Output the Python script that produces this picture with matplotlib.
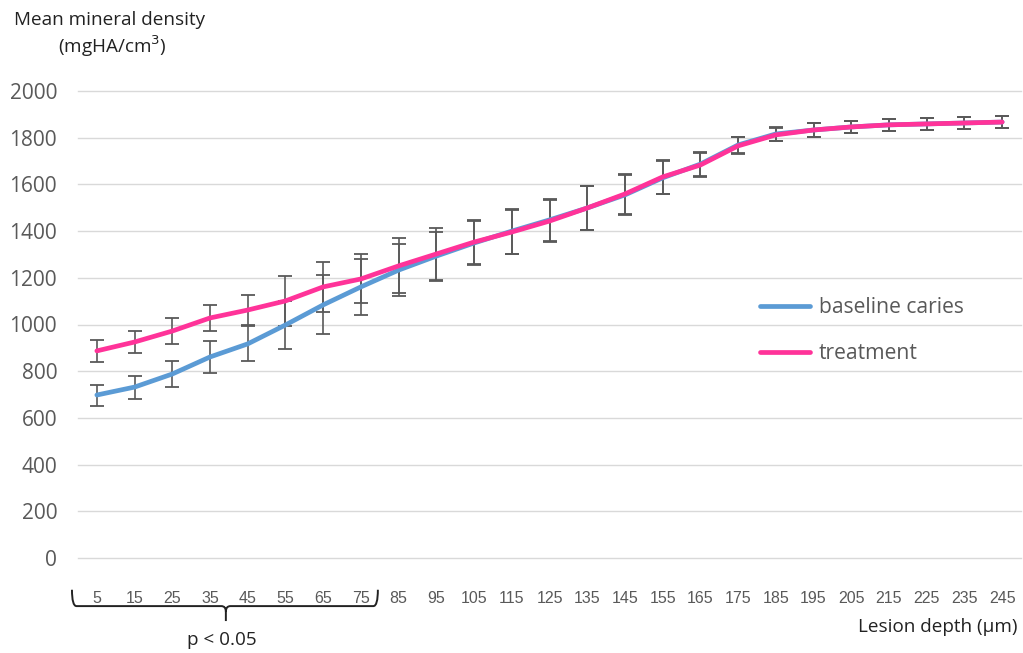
import matplotlib
matplotlib.use("Agg")
import matplotlib.pyplot as plt
import matplotlib.transforms as mtransforms
from matplotlib.path import Path
from matplotlib.patches import PathPatch
import numpy as np

depth = [5, 15, 25, 35, 45, 55, 65, 75, 85, 95, 105, 115, 125, 135, 145,
         155, 165, 175, 185, 195, 205, 215, 225, 235, 245]
baseline = [698, 732, 788, 861, 917, 998, 1084, 1161, 1233, 1293, 1349, 1400,
            1448, 1499, 1555, 1628, 1687, 1769, 1816, 1833, 1846, 1855, 1859, 1863, 1867]
treatment = [887, 925, 972, 1028, 1062, 1101, 1161, 1195, 1251, 1302, 1353, 1396,
             1443, 1499, 1559, 1632, 1683, 1765, 1812, 1833, 1846, 1855, 1859, 1863, 1867]
baseline_err = [45, 49, 56, 69, 75, 103, 126, 120, 113, 105, 94, 96, 90, 94, 86,
                71, 51, 36, 28, 30, 26, 26, 26, 26, 26]
treatment_err = [47, 47, 54, 54, 64, 107, 107, 105, 118, 110, 94, 96, 90, 94, 86,
                 71, 51, 36, 28, 30, 26, 26, 26, 26, 26]
yticks = [0, 200, 400, 600, 800, 1000, 1200, 1400, 1600, 1800, 2000]

blue = "#5B9BD5"
pink = "#FF3399"
gray = "#595959"
dark = "#222222"

fig = plt.figure(figsize=(10.23, 6.53), dpi=100)
ax = fig.add_axes([78/1023, 1-558/653, (1021-78)/1023, (558-91)/653])
x = np.arange(len(depth))

ax.errorbar(x, baseline, yerr=baseline_err, fmt='none', ecolor=gray, elinewidth=1.2,
            capsize=4.8, capthick=1.3, zorder=2)
ax.errorbar(x, treatment, yerr=treatment_err, fmt='none', ecolor=gray, elinewidth=1.2,
            capsize=4.8, capthick=1.3, zorder=2)
ax.plot(x, baseline, color=blue, lw=3.4, label="baseline caries", zorder=3,
        solid_capstyle='round')
ax.plot(x, treatment, color=pink, lw=3.4, label="treatment", zorder=4,
        solid_capstyle='round')

ax.set_xlim(-0.5, len(depth) - 0.5)
ax.set_ylim(0, 2000)
ax.set_yticks(yticks)
ax.set_yticklabels([str(v) for v in yticks], fontsize=15, color=gray,
                   family="Open Sans")
ax.set_xticks(x)
ax.set_xticklabels([str(d) for d in depth], fontsize=11.5, color=gray,
                   family="Liberation Sans")
ax.tick_params(axis='y', length=0, pad=15)
ax.tick_params(axis='x', length=0, pad=24)
ax.grid(axis='y', color="#D9D9D9", lw=1)
for gl in ax.get_ygridlines():
    gl.set_clip_on(False)
ax.set_axisbelow(True)
for s in ax.spines.values():
    s.set_visible(False)

leg = ax.legend(loc='upper left', bbox_to_anchor=((760-78)/943, (558-297)/467),
                frameon=False, handlelength=2.35, handletextpad=0.45,
                labelspacing=1.2, borderpad=0, borderaxespad=0,
                prop={'family': 'Open Sans', 'size': 15.2})
for t in leg.get_texts():
    t.set_color(gray)

fig.text(14/1023, 1-20/653, "Mean mineral density", fontsize=13.6, family="Open Sans",
         va='center', ha='left', color=dark)
fig.text(58/1023, 1-46/653, r"(mgHA/cm$^{3}$)", fontsize=13.6, family="Open Sans",
         va='center', ha='left', color=dark)
fig.text(1018/1023, 1-627/653, "Lesion depth (µm)", fontsize=13.6, family="Open Sans",
         va='center', ha='right', color=dark)

# curly bracket under first eight categories
trans = mtransforms.blended_transform_factory(ax.transData, ax.transAxes)
xl, xr, xc = -0.66, 7.45, 3.42
y0, y1, y2 = -0.068, -0.103, -0.135
dx, dy = 0.12, 0.012
verts = [(xl, y0), (xl, y1), (xl + dx, y1),
         (xc - dx, y1), (xc, y1), (xc, y1 - dy),
         (xc, y2),
         (xc, y1 - dy), (xc, y1), (xc + dx, y1),
         (xr - dx, y1), (xr, y1), (xr, y0)]
codes = [Path.MOVETO, Path.CURVE3, Path.CURVE3,
         Path.LINETO, Path.CURVE3, Path.CURVE3,
         Path.LINETO,
         Path.MOVETO, Path.CURVE3, Path.CURVE3,
         Path.LINETO, Path.CURVE3, Path.CURVE3]
ax.add_patch(PathPatch(Path(verts, codes), fill=False, edgecolor=dark, lw=1.4,
                       transform=trans, clip_on=False))
fig.text(222/1023, 1-640/653, "p < 0.05", fontsize=13.6, family="Open Sans",
         va='center', ha='center', color=dark)

fig.savefig("out.png", dpi=100)
